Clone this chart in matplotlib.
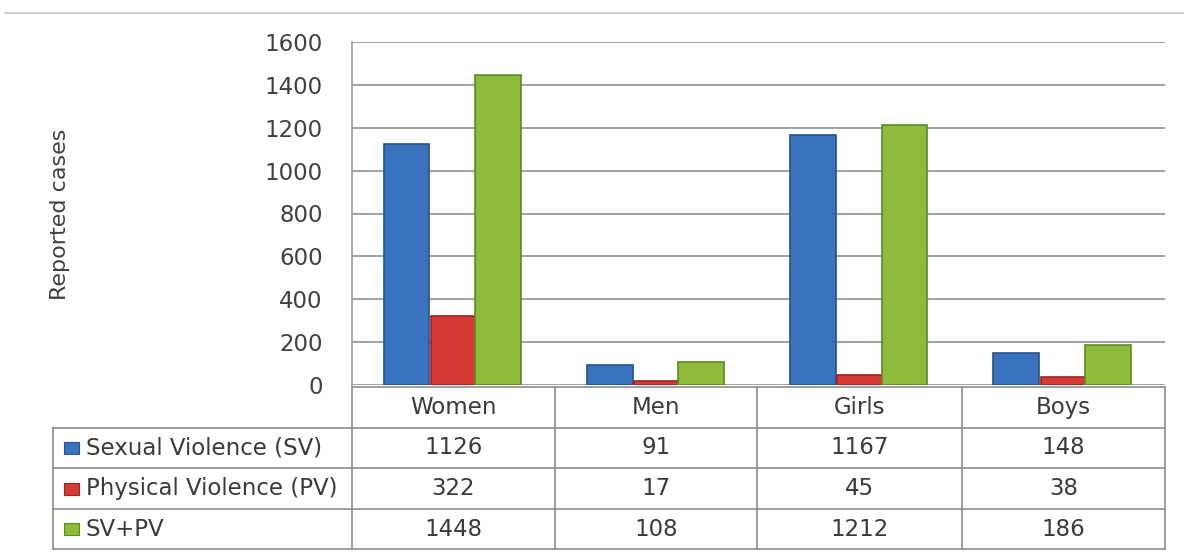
import numpy as np
import matplotlib.pyplot as plt
from matplotlib.lines import Line2D
from matplotlib.patches import Rectangle

# Data
categories = ["Women", "Men", "Girls", "Boys"]
series_names = ["Sexual Violence (SV)", "Physical Violence (PV)", "SV+PV"]
sv = [1126, 91, 1167, 148]
pv = [322, 17, 45, 38]
sv_pv = [1448, 108, 1212, 186]
yticks = [0, 200, 400, 600, 800, 1000, 1200, 1400, 1600]

colors = ["#3a73bd", "#d63a36", "#8fbb3c"]
edges = ["#24528f", "#9e2220", "#5f8a22"]

plt.rcParams['font.family'] = ['DejaVu Sans']

W, H = 1184, 554
fig = plt.figure(figsize=(W / 100, H / 100), dpi=100)


def fx(px):
    return px / W


def fy(py):
    return 1 - py / H


x_left, x_right = 352, 1165
y_top, y_bot = 42, 385
ax = fig.add_axes([fx(x_left), fy(y_bot), fx(x_right) - fx(x_left), fy(y_top) - fy(y_bot)])

x = np.arange(len(categories))
width = 0.225
offsets = [-0.232, 0, 0.218]
for vals, off, c, ec in zip([sv, pv, sv_pv], offsets, colors, edges):
    ax.bar(x + off, vals, width, color=c, edgecolor=ec, linewidth=1.2, zorder=3)

ax.set_xlim(-0.5, len(categories) - 0.5)
ax.set_ylim(0, 1600)
ax.set_yticks(yticks)
ax.set_yticklabels([str(t) for t in yticks], fontsize=16.5, color="#404040")
ax.tick_params(axis="y", length=0, pad=21)
ax.set_xticks([])
ax.grid(axis="y", color="#9a9a9a", linewidth=1.3, zorder=0)
for s in ["top", "right", "bottom"]:
    ax.spines[s].set_visible(False)
ax.spines["left"].set_color("#9a9a9a")
ax.spines["left"].set_linewidth(1.2)

fig.text(fx(60), fy(214), "Reported cases", rotation=90, ha="center", va="center",
         fontsize=16, color="#404040")

# faint top rule
fig.add_artist(Line2D([fx(5), 1], [fy(13), fy(13)], color="#d0d0d0", linewidth=1.5))

# data table below the chart
col_edges = [352, 555, 757, 962, 1165]
row_edges = [387, 428, 468, 509, 549]
tbl_left = 53
lc = "#8c8c8c"

fig.add_artist(Line2D([fx(col_edges[0]), fx(col_edges[-1])], [fy(row_edges[0])] * 2, color=lc, lw=1.2))
for yy in row_edges[1:]:
    fig.add_artist(Line2D([fx(tbl_left), fx(col_edges[-1])], [fy(yy)] * 2, color=lc, lw=1.2))
for xx in col_edges:
    fig.add_artist(Line2D([fx(xx)] * 2, [fy(row_edges[0]), fy(row_edges[-1])], color=lc, lw=1.2))
fig.add_artist(Line2D([fx(tbl_left)] * 2, [fy(row_edges[1]), fy(row_edges[-1])], color=lc, lw=1.2))

# header
for i, cat in enumerate(categories):
    cx = (col_edges[i] + col_edges[i + 1]) / 2
    cy = (row_edges[0] + row_edges[1]) / 2
    fig.text(fx(cx), fy(cy), cat, ha="center", va="center", fontsize=16.5, color="#3a3a3a")

# rows
for r, (name, vals) in enumerate(zip(series_names, [sv, pv, sv_pv])):
    cy = (row_edges[r + 1] + row_edges[r + 2]) / 2
    fig.add_artist(Rectangle((fx(64), fy(cy + 6)), fx(15), fy(0) - fy(12),
                             facecolor=colors[r], edgecolor=edges[r], lw=0.8))
    fig.text(fx(86), fy(cy), name, ha="left", va="center", fontsize=16.5, color="#3a3a3a")
    for i, v in enumerate(vals):
        cx = (col_edges[i] + col_edges[i + 1]) / 2
        fig.text(fx(cx), fy(cy), str(v), ha="center", va="center", fontsize=16.5, color="#3a3a3a")

fig.savefig("out.png", dpi=100)
